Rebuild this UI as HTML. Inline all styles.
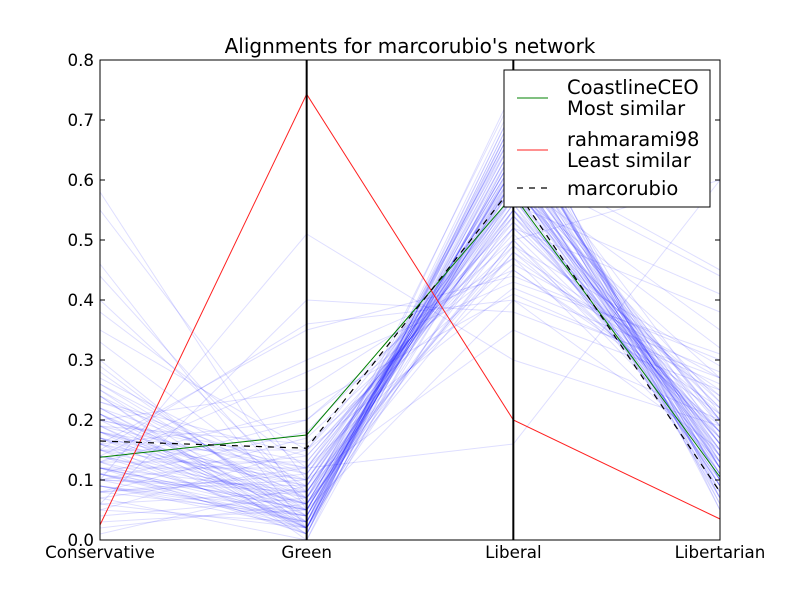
<!DOCTYPE html>
<html><head><meta charset="utf-8"><style>
body{margin:0;background:#fff}
svg text{font-family:"DejaVu Sans","Liberation Sans",sans-serif}
</style></head><body>
<svg id="chart" width="800" height="600" xmlns="http://www.w3.org/2000/svg">
<rect width="800" height="600" fill="#fff"/>
<g id="bg"></g><g id="marks"></g><g id="axes"></g><g id="legend"></g>
</svg>
<script>
const categories=["Conservative","Green","Liberal","Libertarian"];
const yTicks=[0.0,0.1,0.2,0.3,0.4,0.5,0.6,0.7,0.8];
const networkLines=[
[0.12,0.05,0.62,0.12],[0.18,0.02,0.66,0.10],[0.10,0.08,0.58,0.15],[0.22,0.03,0.70,0.08],[0.15,0.10,0.55,0.18],
[0.08,0.04,0.64,0.14],[0.20,0.12,0.60,0.09],[0.25,0.06,0.52,0.20],[0.13,0.01,0.72,0.06],[0.05,0.15,0.57,0.22],
[0.30,0.02,0.61,0.11],[0.17,0.07,0.68,0.07],[0.11,0.20,0.50,0.17],[0.09,0.03,0.75,0.05],[0.27,0.09,0.48,0.25],
[0.58,0.05,0.40,0.15],[0.55,0.10,0.35,0.20],[0.46,0.02,0.55,0.12],[0.40,0.08,0.49,0.18],[0.35,0.15,0.42,0.28],
[0.14,0.30,0.45,0.21],[0.06,0.40,0.38,0.25],[0.10,0.51,0.30,0.19],[0.16,0.35,0.44,0.30],[0.20,0.25,0.47,0.13],
[0.12,0.05,0.60,0.35],[0.18,0.08,0.56,0.41],[0.09,0.04,0.62,0.44],[0.21,0.02,0.58,0.32],[0.15,0.06,0.50,0.60],
[0.07,0.00,0.70,0.10],[0.24,0.01,0.65,0.13],[0.19,0.11,0.59,0.16],[0.13,0.13,0.54,0.23],[0.02,0.06,0.63,0.09],
[0.28,0.04,0.57,0.14],[0.11,0.02,0.73,0.07],[0.16,0.09,0.62,0.11],[0.23,0.14,0.51,0.18],[0.04,0.07,0.67,0.12],
[0.10,0.18,0.53,0.24],[0.26,0.05,0.60,0.08],[0.14,0.03,0.69,0.10],[0.19,0.16,0.46,0.27],[0.08,0.10,0.61,0.20],
[0.21,0.01,0.71,0.05],[0.12,0.12,0.56,0.16],[0.17,0.05,0.64,0.12],[0.06,0.08,0.59,0.19],[0.29,0.03,0.54,0.15],
[0.13,0.22,0.41,0.26],[0.18,0.06,0.63,0.09],[0.09,0.02,0.68,0.14],[0.22,0.10,0.57,0.10],[0.11,0.04,0.66,0.17],
[0.15,0.15,0.52,0.21],[0.03,0.05,0.74,0.07],[0.24,0.07,0.58,0.11],[0.16,0.01,0.65,0.16],[0.10,0.09,0.60,0.23],
[0.20,0.03,0.62,0.13],[0.14,0.06,0.59,0.18],[0.07,0.12,0.55,0.22],[0.25,0.02,0.67,0.06],[0.12,0.08,0.61,0.15],
[0.19,0.04,0.64,0.12],[0.08,0.17,0.49,0.29],[0.17,0.02,0.70,0.09],[0.23,0.11,0.53,0.17],[0.11,0.06,0.63,0.20],
[0.33,0.07,0.50,0.14],[0.13,0.28,0.43,0.31],[0.05,0.03,0.69,0.11],[0.21,0.05,0.60,0.16],[0.15,0.02,0.66,0.08],
[0.38,0.12,0.45,0.22],[0.10,0.14,0.52,0.38],[0.18,0.09,0.58,0.27],[0.12,0.01,0.71,0.10],[0.26,0.08,0.55,0.13],
[0.09,0.05,0.65,0.19],[0.16,0.20,0.47,0.24],[0.22,0.04,0.62,0.07],[0.14,0.07,0.60,0.14],[0.06,0.02,0.72,0.12],
[0.20,0.13,0.54,0.18],[0.11,0.03,0.67,0.21],[0.17,0.10,0.57,0.11],[0.24,0.00,0.63,0.15],[0.13,0.05,0.61,0.09],
[0.01,0.09,0.59,0.16],[0.19,0.02,0.69,0.12],[0.44,0.06,0.48,0.19],[0.15,0.36,0.40,0.27],[0.10,0.03,0.64,0.45],
[0.18,0.12,0.16,0.60],[0.21,0.07,0.56,0.10],[0.12,0.04,0.68,0.13],[0.08,0.11,0.58,0.17],[0.16,0.06,0.62,0.20]
];
const mostSimilar=[0.138,0.175,0.575,0.105];
const leastSimilar=[0.025,0.743,0.200,0.035];
const selfLine=[0.165,0.153,0.590,0.080];
const L=100,R=720,T=60,B=540,yMax=0.8;
const xs=i=>L+i*(R-L)/(categories.length-1);
const ys=v=>B-(v/yMax)*(B-T);
const NS="http://www.w3.org/2000/svg";
function mk(tag,attrs,parent){const e=document.createElementNS(NS,tag);for(const k in attrs)e.setAttribute(k,attrs[k]);parent.appendChild(e);return e;}
const marks=document.getElementById('marks');
const pts=a=>a.map((v,i)=>xs(i)+","+ys(v)).join(" ");
networkLines.forEach((r,i)=>{
 const p=mk('polyline',{points:pts(r),fill:'none',stroke:'#0000ff','stroke-opacity':0.13,'stroke-width':1},marks);
 
 
});
let p=mk('polyline',{points:pts(mostSimilar),fill:'none',stroke:'#008000','stroke-width':1},marks);


p=mk('polyline',{points:pts(leastSimilar),fill:'none',stroke:'#ff2020','stroke-width':1},marks);


p=mk('polyline',{points:pts(selfLine),fill:'none',stroke:'#000','stroke-width':1.2,'stroke-dasharray':'6,6'},marks);


const axes=document.getElementById('axes');
let t=mk('text',{x:410,y:53,'text-anchor':'middle','font-size':20},axes);t.textContent="Alignments for marcorubio's network";


mk('rect',{x:L,y:T,width:R-L,height:B-T,fill:'none',stroke:'#000','stroke-width':1},axes);
categories.forEach((c,i)=>{
 if(i>0&&i<categories.length-1){const a=mk('line',{x1:xs(i),x2:xs(i),y1:T,y2:B,stroke:'#000','stroke-width':2},axes);
 
 }
 const tx=mk('text',{x:xs(i),y:B+18,'text-anchor':'middle','font-size':16.7},axes);tx.textContent=c;
 
 
});
yTicks.forEach(v=>{
 mk('line',{x1:L,x2:L+5,y1:ys(v),y2:ys(v),stroke:'#000'},axes);
 mk('line',{x1:R-5,x2:R,y1:ys(v),y2:ys(v),stroke:'#000'},axes);
 const tx=mk('text',{x:L-6,y:ys(v)+6,'text-anchor':'end','font-size':16.7},axes);tx.textContent=v.toFixed(1);
 
 
});
const lg=document.getElementById('legend');


mk('rect',{x:504,y:70,width:206,height:137,fill:'#fff',stroke:'#000'},lg);
const entries=[["#008000","",["CoastlineCEO","Most similar"],98],["#ff2020","",["rahmarami98","Least similar"],150],["#000","6,6",["marcorubio"],188]];
entries.forEach(e=>{
 mk('line',{x1:517,x2:548,y1:e[3],y2:e[3],stroke:e[0],'stroke-width':e[1]?1.2:1,'stroke-dasharray':e[1]||'none'},lg);
 e[2].forEach((s,j)=>{const tx=mk('text',{x:567,y:(e[2].length>1?e[3]-4:e[3]+7)+j*21,'font-size':19.5},lg);tx.textContent=s;
 
 });
});
</script>
</body></html>
